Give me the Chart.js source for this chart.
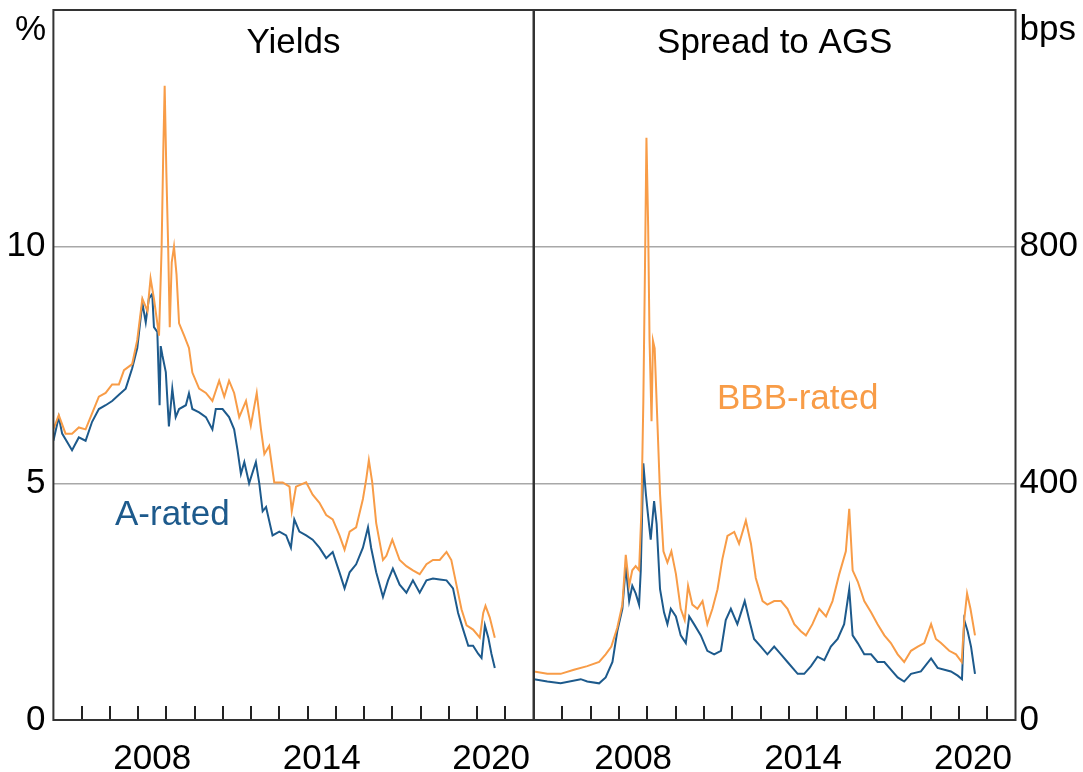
<!DOCTYPE html>
<html>
<head>
<meta charset="utf-8">
<script src="https://cdn.jsdelivr.net/npm/chart.js@4/dist/chart.umd.min.js"></script>
<style>
  html, body { margin: 0; padding: 0; background: #ffffff; }
  #wrap { position: relative; width: 1083px; height: 772px; overflow: hidden; background: #fff; }
  canvas { position: absolute; top: 0; }
  #cL { left: 0; }
  #cR { left: 520px; }
</style>
</head>
<body>
<div id="wrap">
  <canvas id="cL" width="540" height="772"></canvas>
  <canvas id="cR" width="563" height="772"></canvas>
</div>
<script>
// ---------- DATA ----------
const yearLabels = [2008, 2014, 2020];
const yieldTicks = [0, 5, 10];
const spreadTicks = [0, 400, 800];

const yieldAYears = [2005.00,2005.19,2005.31,2005.66,2005.90,2006.14,2006.37,2006.61,2006.85,2007.08,2007.32,2007.56,2007.79,2007.97,2008.15,2008.27,2008.38,2008.50,2008.56,2008.68,2008.76,2008.80,2008.86,2008.98,2009.09,2009.21,2009.33,2009.45,2009.69,2009.80,2009.92,2010.16,2010.40,2010.63,2010.75,2010.99,2011.22,2011.40,2011.52,2011.64,2011.76,2011.93,2012.17,2012.29,2012.41,2012.53,2012.76,2013.00,2013.24,2013.41,2013.53,2013.71,2013.95,2014.18,2014.42,2014.66,2014.89,2015.13,2015.31,2015.49,2015.72,2015.96,2016.14,2016.25,2016.43,2016.67,2016.85,2017.02,2017.26,2017.50,2017.73,2017.97,2018.21,2018.44,2018.68,2018.92,2019.15,2019.33,2019.51,2019.69,2019.86,2020.04,2020.16,2020.28,2020.40,2020.51,2020.63];
const yieldA = [5.9,6.4,6.05,5.7,5.97,5.9,6.3,6.57,6.65,6.74,6.87,7.0,7.43,7.86,8.81,8.4,8.9,9.0,8.3,8.2,6.65,7.9,7.7,7.35,6.2,7.0,6.4,6.57,6.65,6.9,6.57,6.5,6.4,6.14,6.57,6.57,6.4,6.14,5.7,5.2,5.45,5.0,5.45,5.0,4.41,4.5,3.9,3.98,3.9,3.64,4.24,3.98,3.9,3.81,3.64,3.42,3.55,3.12,2.78,3.12,3.29,3.64,4.07,3.64,3.12,2.6,2.95,3.2,2.86,2.69,2.95,2.69,2.95,2.99,2.97,2.95,2.78,2.26,1.91,1.57,1.57,1.4,1.31,2.0,1.74,1.4,1.1];

const yieldBBBYears = [2005.00,2005.19,2005.43,2005.66,2005.90,2006.14,2006.37,2006.61,2006.85,2007.08,2007.32,2007.50,2007.79,2007.97,2008.15,2008.33,2008.44,2008.56,2008.74,2008.83,2008.89,2008.94,2009.00,2009.06,2009.12,2009.19,2009.27,2009.36,2009.45,2009.63,2009.80,2009.92,2010.16,2010.40,2010.63,2010.87,2011.05,2011.22,2011.40,2011.58,2011.82,2011.99,2012.20,2012.35,2012.47,2012.64,2012.82,2013.12,2013.36,2013.44,2013.59,2013.95,2014.18,2014.42,2014.66,2014.89,2015.13,2015.31,2015.49,2015.72,2015.96,2016.08,2016.17,2016.29,2016.43,2016.67,2016.79,2017.00,2017.26,2017.50,2017.73,2017.97,2018.21,2018.44,2018.68,2018.92,2019.09,2019.27,2019.45,2019.63,2019.86,2020.10,2020.22,2020.30,2020.45,2020.63];
const yieldBBB = [6.14,6.44,6.05,6.05,6.18,6.14,6.48,6.83,6.91,7.09,7.09,7.39,7.52,8.03,8.9,8.64,9.33,8.9,8.12,9.93,12.0,13.4,11.57,10.1,8.3,9.67,10.0,9.41,8.38,8.12,7.86,7.34,7.0,6.91,6.74,7.17,6.83,7.17,6.91,6.4,6.74,6.22,6.91,6.14,5.62,5.79,5.02,5.02,4.93,4.41,4.93,5.02,4.76,4.59,4.33,4.24,3.9,3.6,3.98,4.07,4.67,5.1,5.49,5.02,4.16,3.38,3.47,3.81,3.38,3.25,3.16,3.08,3.29,3.38,3.38,3.55,3.38,2.86,2.34,2.0,1.91,1.74,2.26,2.41,2.17,1.74];

const spreadAYears = [2005.00,2005.47,2005.94,2006.65,2006.88,2007.30,2007.53,2007.77,2007.94,2008.12,2008.24,2008.36,2008.47,2008.59,2008.71,2008.77,2008.86,2008.95,2009.03,2009.12,2009.24,2009.33,2009.45,2009.59,2009.71,2009.83,2010.01,2010.18,2010.36,2010.48,2010.65,2010.89,2011.12,2011.36,2011.60,2011.77,2011.95,2012.18,2012.44,2012.60,2012.77,2013.01,2013.24,2013.48,2013.72,2013.95,2014.31,2014.54,2014.78,2015.01,2015.25,2015.48,2015.72,2015.95,2016.13,2016.25,2016.43,2016.66,2016.90,2017.13,2017.37,2017.60,2017.84,2018.07,2018.31,2018.66,2019.02,2019.25,2019.49,2019.72,2019.96,2020.11,2020.19,2020.31,2020.43,2020.57];
const spreadA = [69,65,62,69,65,62,72,98,150,188,260,201,227,214,195,253,434,382,344,305,370,331,221,182,162,188,175,143,130,175,162,143,117,111,117,169,188,162,201,169,137,124,111,124,111,98,78,78,91,107,101,124,137,162,221,143,130,111,111,98,98,85,72,65,78,82,104,88,85,82,75,69,169,150,124,78];

const spreadBBBYears = [2005.00,2005.47,2005.94,2006.41,2006.88,2007.30,2007.53,2007.73,2007.94,2008.12,2008.24,2008.36,2008.47,2008.59,2008.71,2008.79,2008.86,2008.92,2008.97,2009.03,2009.08,2009.15,2009.20,2009.26,2009.36,2009.45,2009.57,2009.71,2009.85,2010.01,2010.18,2010.32,2010.44,2010.59,2010.77,2010.95,2011.12,2011.30,2011.48,2011.65,2011.83,2012.07,2012.24,2012.48,2012.66,2012.83,2013.07,2013.24,2013.48,2013.72,2013.95,2014.19,2014.42,2014.60,2014.83,2015.07,2015.31,2015.54,2015.78,2016.01,2016.13,2016.25,2016.43,2016.66,2016.90,2017.13,2017.37,2017.60,2017.84,2018.07,2018.31,2018.55,2018.78,2019.02,2019.19,2019.37,2019.66,2019.90,2020.10,2020.19,2020.29,2020.41,2020.57];
const spreadBBB = [82,78,78,85,91,98,111,124,156,195,279,227,253,260,253,350,538,771,984,836,641,505,641,628,499,382,285,266,285,247,188,169,227,195,188,201,162,188,221,272,311,318,298,337,298,240,201,195,201,201,188,162,150,143,162,188,175,201,247,285,357,253,234,201,182,162,143,130,111,98,117,124,130,162,137,130,117,111,98,169,214,188,143];

// ---------- STYLE ----------
const BLUE = '#1d5a8c';
const ORANGE = '#f89c47';
const FONT = "'Liberation Sans', Arial, sans-serif";
const FS = 35;

function pts(xs, ys) { return xs.map((x, i) => ({ x: x, y: ys[i] })); }
function noPad(s) { s.paddingTop = 0; s.paddingBottom = 0; s.paddingLeft = 0; s.paddingRight = 0; }

const decor = {
  id: 'decor',
  afterDraw(chart, args, opts) {
    const ctx = chart.ctx, a = chart.chartArea, xs = chart.scales.x;
    ctx.save();
    ctx.strokeStyle = '#222';
    ctx.lineWidth = 2;
    ctx.beginPath();
    for (let y = Math.ceil(xs.min) + 1; y < xs.max; y++) {
      const px = Math.round(xs.getPixelForValue(y));
      ctx.moveTo(px, a.bottom);
      ctx.lineTo(px, a.bottom - 14);
    }
    ctx.stroke();
    ctx.strokeStyle = '#333';
    ctx.lineWidth = 2;
    ctx.strokeRect(a.left, a.top, a.right - a.left, a.bottom - a.top);
    ctx.font = FS + 'px ' + FONT;
    ctx.textBaseline = 'alphabetic';
    (opts.texts || []).forEach(t => {
      ctx.fillStyle = t.color || '#000';
      ctx.textAlign = t.align || 'left';
      const x = t.center ? (a.left + a.right) / 2 : t.x;
      ctx.fillText(t.text, x, t.y);
    });
    ctx.restore();
  }
};

function xScale() {
  return {
    type: 'linear', min: 2005, max: 2022,
    grid: { display: false }, border: { display: false },
    afterBuildTicks: s => { s.ticks = yearLabels.map(v => ({ value: v + 0.5 })); },
    afterFit: s => { s.height = 52; noPad(s); },
    ticks: {
      autoSkip: false, maxRotation: 0, padding: 10, color: '#000',
      font: { family: FONT, size: FS },
      callback: v => String(Math.floor(v))
    }
  };
}

function makeChart(id, cfg) {
  return new Chart(document.getElementById(id), {
    type: 'line',
    data: { datasets: cfg.datasets },
    options: {
      responsive: false, animation: false, devicePixelRatio: 1,
      layout: { padding: cfg.padding },
      plugins: { legend: { display: false }, tooltip: { enabled: false }, decor: { texts: cfg.texts } },
      elements: { point: { radius: 0 }, line: { borderWidth: 2, tension: 0 } },
      scales: {
        x: xScale(),
        y: {
          type: 'linear', position: cfg.pos, min: 0, max: cfg.max,
          border: { display: false },
          afterBuildTicks: s => { s.ticks = cfg.ticks.map(v => ({ value: v })); },
          afterFit: s => { s.width = cfg.axisWidth; noPad(s); },
          grid: {
            drawTicks: false, lineWidth: 1.5,
            color: c => (c.tick && c.tick.value > 0) ? '#a8a8a8' : 'rgba(0,0,0,0)'
          },
          ticks: { padding: cfg.tickPad, color: '#000', font: { family: FONT, size: FS } }
        }
      }
    },
    plugins: [decor]
  });
}

makeChart('cL', {
  datasets: [
    { data: pts(yieldBBBYears, yieldBBB), borderColor: ORANGE },
    { data: pts(yieldAYears, yieldA), borderColor: BLUE }
  ],
  padding: { top: 10, right: 6.5, left: 0, bottom: 0 },
  pos: 'left', max: 15, ticks: yieldTicks, axisWidth: 53.4, tickPad: 8,
  texts: [
    { text: '%', x: 46, y: 40, align: 'right' },
    { text: 'Yields', center: true, y: 53, align: 'center' },
    { text: 'A-rated', x: 115, y: 525, color: BLUE }
  ]
});

makeChart('cR', {
  datasets: [
    { data: pts(spreadBBBYears, spreadBBB), borderColor: ORANGE },
    { data: pts(spreadAYears, spreadA), borderColor: BLUE }
  ],
  padding: { top: 10, right: 0, left: 14, bottom: 0 },
  pos: 'right', max: 1200, ticks: spreadTicks, axisWidth: 67.5, tickPad: 4,
  texts: [
    { text: 'bps', x: 499.5, y: 40 },
    { text: 'Spread to AGS', center: true, y: 53, align: 'center' },
    { text: 'BBB-rated', x: 197, y: 408.5, color: ORANGE }
  ]
});
</script>
</body>
</html>
